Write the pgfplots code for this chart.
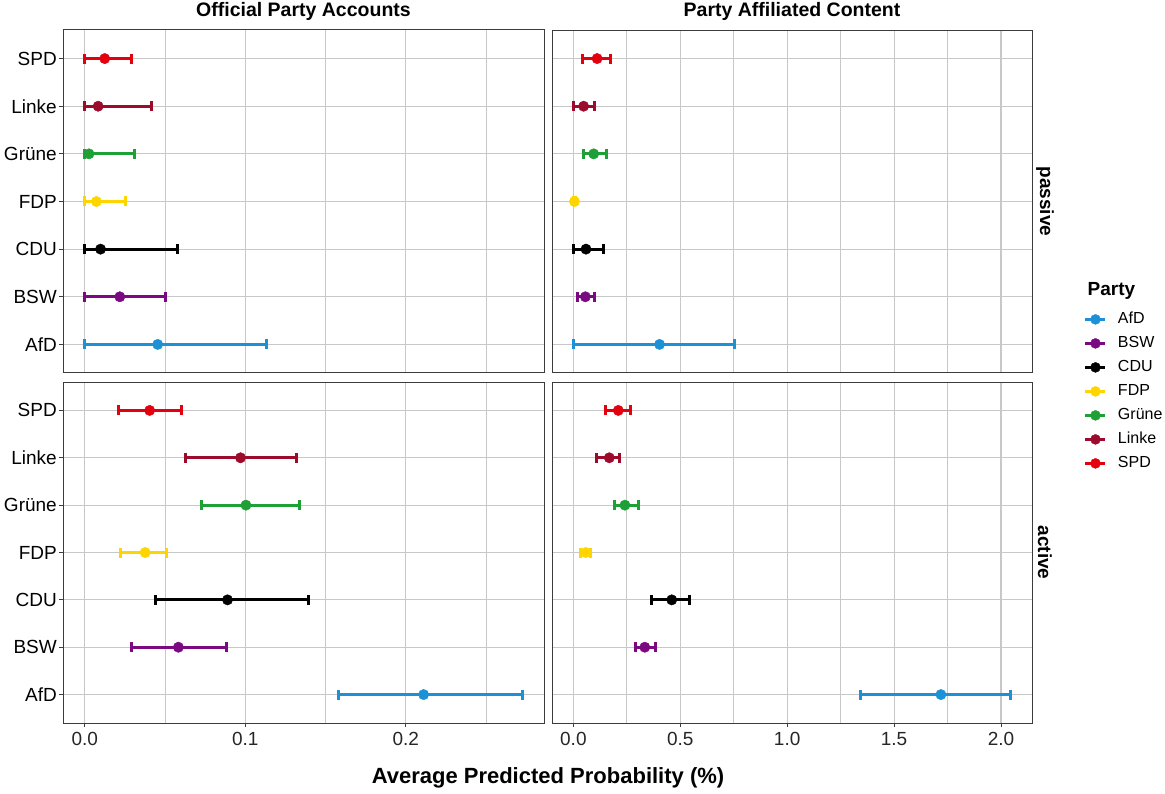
\documentclass[border=0pt]{standalone}
\usepackage{fontspec}
\setmainfont{Liberation Sans}
\usepackage{pgfplots}
\pgfplotsset{compat=1.18}
\definecolor{cAfD}{HTML}{1E90D5}
\definecolor{cBSW}{HTML}{7B0A82}
\definecolor{cCDU}{HTML}{000000}
\definecolor{cFDP}{HTML}{FFD500}
\definecolor{cGr}{HTML}{1FA037}
\definecolor{cLi}{HTML}{9C0A2C}
\definecolor{cSPD}{HTML}{E3000F}
\definecolor{gridc}{HTML}{C8C8C8}
\definecolor{framec}{HTML}{3C3C3C}
\newcommand{\fs}[1]{\fontsize{#1}{#1}\selectfont}

\pgfplotsset{
  panel/.style={scale only axis, ymin=0.4, ymax=7.6, ytick={1,...,7},
    grid=both, major grid style={gridc, line width=1.1pt}, minor grid style={gridc, line width=1.1pt},
    axis line style={framec, line width=1pt},
    tick align=outside, major tick length=4pt, minor tick length=0pt,
    tick style={framec, line width=1pt},
    xtick pos=bottom, ytick pos=left,
    tick label style={font=\fs{19}},
    yticklabel style={text=black, inner sep=2pt},
    xticklabel style={text=black!85, inner sep=2pt, yshift=-3pt},
    title style={at={(0.5,1)}, anchor=base, yshift=7.4pt, font=\bfseries\fs{19.5}, inner sep=0pt}},
  notick x/.style={xtick style={draw=none}, xticklabels={}},
  notick y/.style={ytick style={draw=none}, yticklabels={}},
  lefty/.style={yticklabels={AfD,BSW,CDU,FDP,Grüne,Linke,SPD}},
  leftp/.style={width=481pt, xmin=-0.0136, xmax=0.2861, xtick={0,0.1,0.2}, minor xtick={0.05,0.15,0.25}},
  rightp/.style={width=480pt, xmin=-0.1, xmax=2.145, xtick={0,0.5,1,1.5,2}, minor xtick={0.25,0.75,1.25,1.75}},
  pt/.style={color=#1, forget plot, only marks, mark=*, mark size=5.2pt,
    mark options={solid, fill=#1, draw=#1, line width=0.4pt},
    error bars/.cd, x dir=both, x explicit,
    error bar style={line width=3pt, color=#1},
    error mark options={rotate=90, line width=3pt, mark size=5pt, color=#1}},
  leg/.style={color=#1, line width=3pt, mark=*, mark size=5pt, mark options={solid, line width=0.4pt, fill=#1}},
}

\begin{document}
\begin{tikzpicture}
\useasboundingbox (0,0) rectangle (1165pt,793pt);

% ---------- Official Party Accounts, passive ----------
\begin{axis}[panel, leftp, lefty, notick x, name=TL, at={(63pt,420pt)}, anchor=south west, height=343pt,
  title={Official Party Accounts}]
\addplot[pt=cAfD] coordinates {(0.0454,1) += (0.0681,0) -= (0.0454,0)};
\addplot[pt=cBSW] coordinates {(0.0218,2) += (0.0286,0) -= (0.0218,0)};
\addplot[pt=cCDU] coordinates {(0.0098,3) += (0.0482,0) -= (0.0098,0)};
\addplot[pt=cFDP] coordinates {(0.0072,4) += (0.0179,0) -= (0.0072,0)};
\addplot[pt=cGr]  coordinates {(0.0026,5) += (0.0284,0) -= (0.0026,0)};
\addplot[pt=cLi]  coordinates {(0.0083,6) += (0.0330,0) -= (0.0083,0)};
\addplot[pt=cSPD] coordinates {(0.0124,7) += (0.0169,0) -= (0.0124,0)};
\end{axis}

% ---------- Party Affiliated Content, passive ----------
\begin{axis}[panel, rightp, notick x, notick y, name=TR, at={(552pt,420pt)}, anchor=south west, height=343pt,
  title={Party Affiliated Content},
  legend style={at={(1.1083,0.1796)}, anchor=north west, draw=none, fill=none, inner sep=0pt, outer sep=0pt,
    font=\fs{16}, row sep=8pt, column sep=11pt, nodes={inner sep=0pt, text height=12pt, text depth=4pt}},
  legend cell align=left,
  legend image code/.code={\draw[mark repeat=2, mark phase=2, #1] plot coordinates {(0pt,0pt) (10pt,0pt) (20pt,0pt)};}]
\addlegendimage{leg=cAfD}
\addlegendimage{leg=cBSW}
\addlegendimage{leg=cCDU}
\addlegendimage{leg=cFDP}
\addlegendimage{leg=cGr}
\addlegendimage{leg=cLi}
\addlegendimage{leg=cSPD}
\legend{AfD,BSW,CDU,FDP,Grüne,Linke,SPD}
\addplot[pt=cAfD] coordinates {(0.403,1) += (0.351,0) -= (0.403,0)};
\addplot[pt=cBSW] coordinates {(0.056,2) += (0.044,0) -= (0.037,0)};
\addplot[pt=cCDU] coordinates {(0.059,3) += (0.081,0) -= (0.059,0)};
\addplot[pt=cFDP] coordinates {(0.005,4) += (0.005,0) -= (0.005,0)};
\addplot[pt=cGr]  coordinates {(0.095,5) += (0.059,0) -= (0.048,0)};
\addplot[pt=cLi]  coordinates {(0.048,6) += (0.052,0) -= (0.046,0)};
\addplot[pt=cSPD] coordinates {(0.111,7) += (0.062,0) -= (0.069,0)};
\end{axis}

% ---------- Official Party Accounts, active ----------
\begin{axis}[panel, leftp, lefty, name=BL, at={(63pt,70pt)}, anchor=south west, height=341pt,
  xticklabels={0.0,0.1,0.2}]
\addplot[pt=cAfD] coordinates {(0.2111,1) += (0.0614,0) -= (0.0528,0)};
\addplot[pt=cBSW] coordinates {(0.0583,2) += (0.0301,0) -= (0.0293,0)};
\addplot[pt=cCDU] coordinates {(0.0889,3) += (0.0504,0) -= (0.0446,0)};
\addplot[pt=cFDP] coordinates {(0.0376,4) += (0.0135,0) -= (0.0151,0)};
\addplot[pt=cGr]  coordinates {(0.1004,5) += (0.0336,0) -= (0.0277,0)};
\addplot[pt=cLi]  coordinates {(0.0970,6) += (0.0347,0) -= (0.0340,0)};
\addplot[pt=cSPD] coordinates {(0.0404,7) += (0.0201,0) -= (0.0194,0)};
\end{axis}

% ---------- Party Affiliated Content, active ----------
\begin{axis}[panel, rightp, notick y, name=BR, at={(552pt,70pt)}, anchor=south west, height=341pt,
  xticklabels={0.0,0.5,1.0,1.5,2.0}]
\addplot[pt=cAfD] coordinates {(1.719,1) += (0.326,0) -= (0.378,0)};
\addplot[pt=cBSW] coordinates {(0.334,2) += (0.049,0) -= (0.045,0)};
\addplot[pt=cCDU] coordinates {(0.460,3) += (0.084,0) -= (0.095,0)};
\addplot[pt=cFDP] coordinates {(0.058,4) += (0.023,0) -= (0.023,0)};
\addplot[pt=cGr]  coordinates {(0.241,5) += (0.062,0) -= (0.048,0)};
\addplot[pt=cLi]  coordinates {(0.168,6) += (0.050,0) -= (0.061,0)};
\addplot[pt=cSPD] coordinates {(0.210,7) += (0.059,0) -= (0.062,0)};
\end{axis}

% strip labels, axis title, legend title
\node[rotate=-90, font=\bfseries\fs{19}, inner sep=0pt] at ([xshift=13pt]TR.east) {passive};
\node[rotate=-90, font=\bfseries\fs{19}, inner sep=0pt] at ([xshift=13pt]BR.east) {active};
\node[anchor=base, font=\bfseries\fs{22}, inner sep=0pt] at (548pt,9.2pt) {Average Predicted Probability (\%)};
\node[anchor=base west, font=\bfseries\fs{19}, inner sep=0pt] at (1087.5pt,497.4pt) {Party};
\end{tikzpicture}
\end{document}
